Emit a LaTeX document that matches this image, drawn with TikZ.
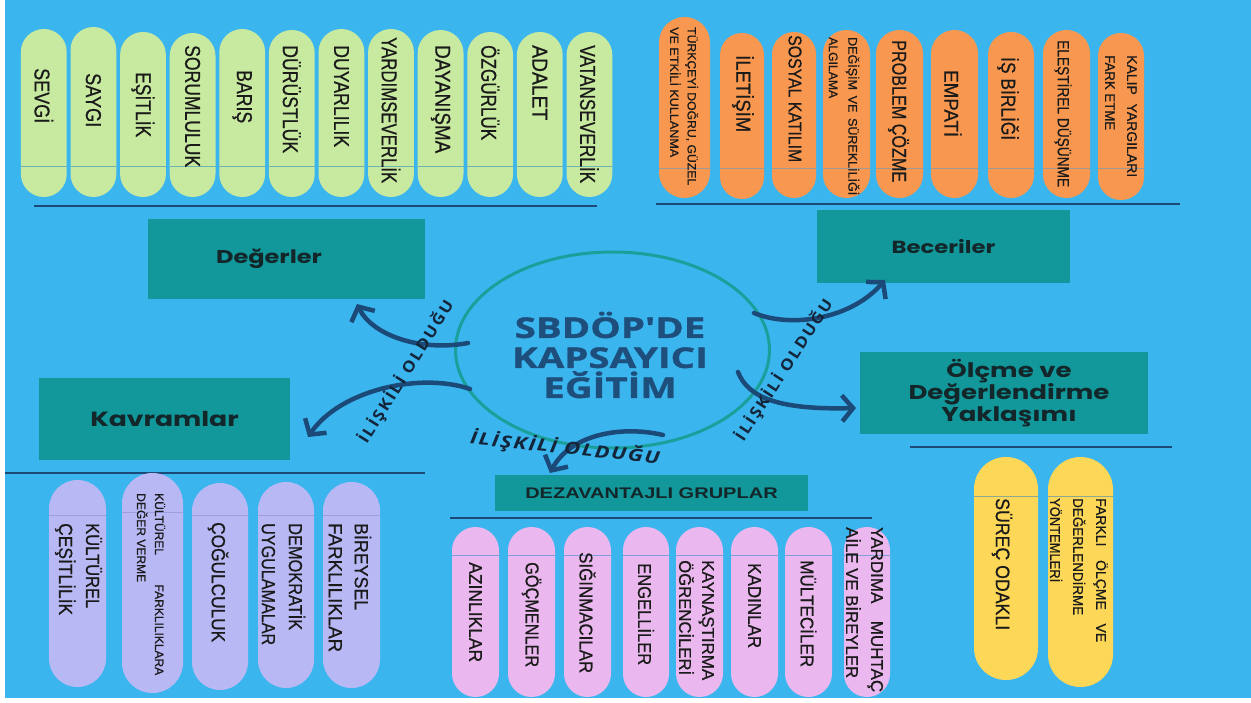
\documentclass[tikz,border=0pt]{standalone}
\usepackage{fontspec}
\usepackage{graphicx}
\usetikzlibrary{arrows.meta,shapes.geometric}
\setmainfont{Liberation Sans}
\newfontfamily\pillf[FakeBold=0.7]{Liberation Sans}
\newfontfamily\boxf[FakeStretch=1.3]{Poppins}
\newfontfamily\coref[FakeStretch=1.35,FakeBold=1.2]{Open Sans}
\newfontfamily\lblf[FakeStretch=1.1,LetterSpace=12]{Open Sans}
\newfontfamily\lblcf[FakeStretch=1.3,LetterSpace=9]{Open Sans}
\newfontfamily\dezf[FakeStretch=1.3]{Liberation Sans}
\definecolor{bgblue}{HTML}{3BB5EE}
\definecolor{tealbox}{HTML}{12989A}
\definecolor{pgreen}{HTML}{C8E9A0}
\definecolor{porange}{HTML}{F89850}
\definecolor{ppurple}{HTML}{B8B8F5}
\definecolor{ppink}{HTML}{EAB8EE}
\definecolor{pyellow}{HTML}{FCD758}
\definecolor{navy}{HTML}{1B4A78}
\definecolor{corenavy}{HTML}{1D4E7C}
\definecolor{ellc}{HTML}{19A09B}
\definecolor{txt}{HTML}{1A1A1A}
\definecolor{boxtxt}{HTML}{13262A}
\definecolor{lbl}{HTML}{14253A}
\definecolor{sepg}{HTML}{6DB3B0}
\definecolor{sepo}{HTML}{A09A94}
\definecolor{sepp}{HTML}{7E9ED8}
\definecolor{sepk}{HTML}{9C9FE0}
\definecolor{sepy}{HTML}{8FA890}
\newcommand\fitw[2]{\resizebox{#1pt}{\height}{#2}}
\newcommand\spw[2]{\makebox[#1pt][s]{#2}}
\newcommand\mypill[8]{%
\pgfmathsetmacro\pw{#3-#2}%
\pgfmathsetmacro\ph{#5-#4}%
\pgfmathsetmacro\pr{(#3-#2)/2-0.05}%
\pgfmathsetmacro\pcx{(#2+#3)/2}%
\pgfmathsetmacro\pcy{(#4+#5)/2}%
\node[pill,fill=#6,minimum width=\pw pt,minimum height=\ph pt,rounded corners=\pr pt] (#1) at (\pcx,\pcy) {};%
\draw[line width=1pt,draw=#8] (#1.west |- 0,#7) -- (#1.east |- 0,#7);}
\begin{document}
\begin{tikzpicture}[x=1pt,y=-1pt,
 pill/.style={rectangle,inner sep=0pt,outer sep=0pt,draw=none},
 vtext/.style={rotate=-90,anchor=west,inner sep=0pt,align=left,text=txt},
 tbox/.style={rectangle,fill=tealbox,inner sep=0pt,outer sep=0pt,text=boxtxt},
 hline/.style={draw=navy,line width=2.8pt},
 arr/.style={draw=navy,line width=4.5pt,line cap=round,-{Straight Barb[length=11pt,width=26pt]}},
 rel/.style={text=lbl,inner sep=0pt}]
\useasboundingbox (0,0) rectangle (1251,703);
\fill[white] (0,0) rectangle (1251,703);
\fill[bgblue] (5,0) rectangle (1251,698);
% separator lines
\coordinate (l1a) at (34,206); \coordinate (l1b) at (597,206);
\coordinate (l2a) at (656,204); \coordinate (l2b) at (1180,204);
\coordinate (l3a) at (5,473); \coordinate (l3b) at (425,473);
\coordinate (l4a) at (450,518); \coordinate (l4b) at (872,518);
\coordinate (l5a) at (910,447); \coordinate (l5b) at (1172,447);
\draw[hline] (l1a) -- (l1b);
\draw[hline] (l2a) -- (l2b);
\draw[hline] (l3a) -- (l3b);
\draw[hline] (l4a) -- (l4b);
\draw[hline] (l5a) -- (l5b);
% green pills (values)
\foreach \i/\c/\t in {1/43.8/29,2/93.4/27,3/143.0/32,4/192.6/33,5/242.2/29,6/291.8/30,7/341.4/29,8/391.0/29,9/440.6/30,10/490.2/32,11/539.8/32,12/589.4/32}{
 \pgfmathsetmacro\lx{\c-22.9}\pgfmathsetmacro\rx{\c+22.9}
 \mypill{g\i}{\lx}{\rx}{\t}{197}{pgreen}{167}{sepg}}
\foreach \i/\c/\s/\L/\w in {1/43.8/68/55/SEVGİ,2/93.4/73/54/SAYGI,3/143.0/72/65/EŞİTLİK,4/192.6/45/122/SORUMLULUK,5/242.2/70/53/BARIŞ,6/291.8/45/108/DÜRÜSTLÜK,7/341.4/45/102/DUYARLILIK,8/391.0/37/146/YARDIMSEVERLİK,9/440.6/45/108/DAYANIŞMA,10/490.2/45/95/ÖZGÜRLÜK,11/539.8/45/75/ADALET,12/589.4/45/138/VATANSEVERLİK}{
 \node[vtext,font=\pillf\fontsize{21.5}{24}\selectfont] (gt\i) at (\c,\s) {\fitw{\L}{\w}};}
% orange pills (skills)
\foreach \i/\l/\r/\t/\b in {1/659/710/17/198,2/720/764/33/199,3/772/816/32/198,4/823/870/30/198,5/876/923/30/198,6/931/978/30/198,7/988/1034/32/198,8/1043/1090/30/198,9/1098/1144/33/200}{
 \mypill{o\i}{\l}{\r}{\t}{\b}{porange}{169}{sepo}}
\node[vtext,font=\pillf\fontsize{12}{17.5}\selectfont] (ot1) at (684,27) {\fitw{158}{TÜRKÇEYİ DOĞRU, GÜZEL}\\\fitw{130}{VE ETKİLİ KULLANMA}};
\node[vtext,font=\pillf\fontsize{20}{24}\selectfont] (ot2) at (743,55) {\fitw{77}{İLETİŞİM}};
\node[vtext,font=\pillf\fontsize{18.5}{24}\selectfont] (ot3) at (795,35) {\fitw{127}{SOSYAL KATILIM}};
\node[vtext,font=\pillf\fontsize{12.5}{19.5}\selectfont] (ot4) at (844,37) {\spw{158}{DEĞİŞİM VE SÜREKLİLİĞİ}\\\fitw{61}{ALGILAMA}};
\node[vtext,font=\pillf\fontsize{20}{24}\selectfont] (ot5) at (898.5,40) {\fitw{142}{PROBLEM ÇÖZME}};
\node[vtext,font=\pillf\fontsize{20}{24}\selectfont] (ot6) at (953,70) {\fitw{67}{EMPATİ}};
\node[vtext,font=\pillf\fontsize{20}{24}\selectfont] (ot7) at (1008,57) {\fitw{83}{İŞ BİRLİĞİ}};
\node[vtext,font=\pillf\fontsize{16}{20}\selectfont] (ot8) at (1063,40) {\fitw{147}{ELEŞTİREL DÜŞÜNME}};
\node[vtext,font=\pillf\fontsize{14}{22}\selectfont] (ot9) at (1121,55) {\spw{122}{KALIP YARGILARI}\\\fitw{75}{FARK ETME}};
% purple pills (concepts)
\mypill{k1}{49}{106}{480}{687}{ppurple}{515}{sepk}
\mypill{k2}{122}{183}{473}{693}{ppurple}{512}{sepk}
\mypill{k3}{192}{248}{483}{690}{ppurple}{515}{sepk}
\mypill{k4}{258}{314}{482}{688}{ppurple}{515}{sepk}
\mypill{k5}{323}{380}{482}{688}{ppurple}{515}{sepk}
\node[vtext,font=\pillf\fontsize{19}{27}\selectfont] (kt1) at (78.5,523) {\fitw{85}{KÜLTÜREL}\\\fitw{92}{ÇEŞİTLİLİK}};
\node[vtext,font=\pillf\fontsize{12}{18}\selectfont] (kt2) at (151,493) {\spw{182}{KÜLTÜREL FARKLILIKLARA}\\\fitw{89}{DEĞER VERME}};
\node[vtext,font=\pillf\fontsize{19}{27}\selectfont] (kt3) at (218,522) {\fitw{120}{ÇOĞULCULUK}};
\node[vtext,font=\pillf\fontsize{19}{27}\selectfont] (kt4) at (283.5,523) {\fitw{107}{DEMOKRATİK}\\\fitw{122}{UYGULAMALAR}};
\node[vtext,font=\pillf\fontsize{19}{26}\selectfont] (kt5) at (350,523) {\fitw{87}{BİREYSEL}\\\fitw{129}{FARKLILIKLAR}};
% pink pills (disadvantaged groups)
\foreach \i/\l/\r in {1/452/499,2/508/555,3/564/611,4/623/669,5/676/723,6/731/778,7/785/832,8/844/890}{
 \mypill{p\i}{\l}{\r}{527}{697}{ppink}{555}{sepp}}
\foreach \i/\c/\s/\L/\w in {1/475.5/562/100/AZINLIKLAR,2/531.5/562/105/GÖÇMENLER,3/587.5/552/121/SIĞINMACILAR,4/646/563/102/ENGELLİLER,6/754.5/563/85/KADINLAR,7/808.5/560/107/MÜLTECİLER}{
 \node[vtext,font=\pillf\fontsize{18.5}{24}\selectfont] (pt\i) at (\c,\s) {\fitw{\L}{\w}};}
\node[vtext,font=\pillf\fontsize{17}{23}\selectfont] (pt5) at (696.5,560) {\fitw{120}{KAYNAŞTIRMA}\\\fitw{115}{ÖĞRENCİLERİ}};
\node[vtext,font=\pillf\fontsize{17}{25}\selectfont] (pt8) at (864.5,527) {\spw{165}{YARDIMA MUHTAÇ}\\\fitw{151}{AİLE VE BİREYLER}};
% yellow pills (assessment)
\mypill{y1}{974}{1038}{457}{680}{pyellow}{496}{sepy}
\mypill{y2}{1048}{1113}{457}{687}{pyellow}{496}{sepy}
\node[vtext,font=\pillf\fontsize{19.5}{24}\selectfont] (yt1) at (1002,498) {\fitw{132}{SÜREÇ ODAKLI}};
\node[vtext,font=\pillf\fontsize{14}{23}\selectfont] (yt2) at (1079,498) {\spw{144}{FARKLI ÖLÇME VE}\\\fitw{117}{DEĞERLENDİRME}\\\fitw{84}{YÖNTEMLERİ}};
% teal boxes
\node[tbox,minimum width=277pt,minimum height=80pt,font=\boxf\bfseries\fontsize{18.5}{22}\selectfont] (deg) at (286.5,259) {Değerler\hspace*{35pt}};
\node[tbox,minimum width=251pt,minimum height=82pt,font=\boxf\bfseries\fontsize{20.5}{24}\selectfont] (kav) at (164.5,419) {Kavramlar};
\node[tbox,minimum width=253pt,minimum height=73pt,font=\boxf\bfseries\fontsize{17.5}{20}\selectfont] (bec) at (943.5,246.5) {Beceriler};
\node[tbox,minimum width=288pt,minimum height=82pt,align=center,font=\boxf\bfseries\fontsize{20}{19.5}\selectfont] (olc) at (1004,393) {\hspace*{10pt}Ölçme ve\\\hspace*{10pt}Değerlendirme\\\hspace*{10pt}Yaklaşımı};
\node[tbox,minimum width=313pt,minimum height=36pt,font=\dezf\bfseries\fontsize{15.4}{18}\selectfont] (dez) at (651.5,493) {DEZAVANTAJLI GRUPLAR};
% central ellipse
\node[ellipse,draw=ellc,line width=3pt,minimum width=314pt,minimum height=196pt,inner sep=0pt] (core) at (612.5,350) {};
\node[align=center,inner sep=0pt,text=corenavy,font=\coref\bfseries\fontsize{28.5}{30}\selectfont] (coretxt) at (610,355) {SBDÖP'DE\\KAPSAYICI\\EĞİTİM};
% arrows
\coordinate (a1s) at (468,343); \coordinate (a1e) at (357,304);
\coordinate (a2s) at (470,389); \coordinate (a2e) at (308,437);
\coordinate (a3s) at (754,313); \coordinate (a3e) at (885,280);
\coordinate (a4s) at (738,372); \coordinate (a4e) at (856,408);
\coordinate (a5s) at (663,435); \coordinate (a5e) at (550,473);
\draw[arr] (a1s) .. controls (420,352) and (372,335) .. (a1e);
\draw[arr] (a2s) .. controls (420,372) and (340,390) .. (a2e);
\draw[arr] (a3s) .. controls (790,328) and (850,320) .. (a3e);
\draw[arr] (a4s) .. controls (748,398) and (780,410) .. (a4e);
\draw[arr] (a5s) .. controls (620,425) and (570,435) .. (a5e);
% relation labels
\node[rel,rotate=58,font=\lblf\bfseries\fontsize{15.5}{18}\selectfont] (rA) at (406,372) {İLİŞKİLİ OLDUĞU};
\node[rel,rotate=57,font=\lblf\bfseries\fontsize{15.5}{18}\selectfont] (rB) at (784,370) {İLİŞKİLİ OLDUĞU};
\node[rel,rotate=-6,font=\lblcf\bfseries\itshape\fontsize{17}{20}\selectfont] (rC) at (565,448) {İLİŞKİLİ OLDUĞU};
\end{tikzpicture}
\end{document}
